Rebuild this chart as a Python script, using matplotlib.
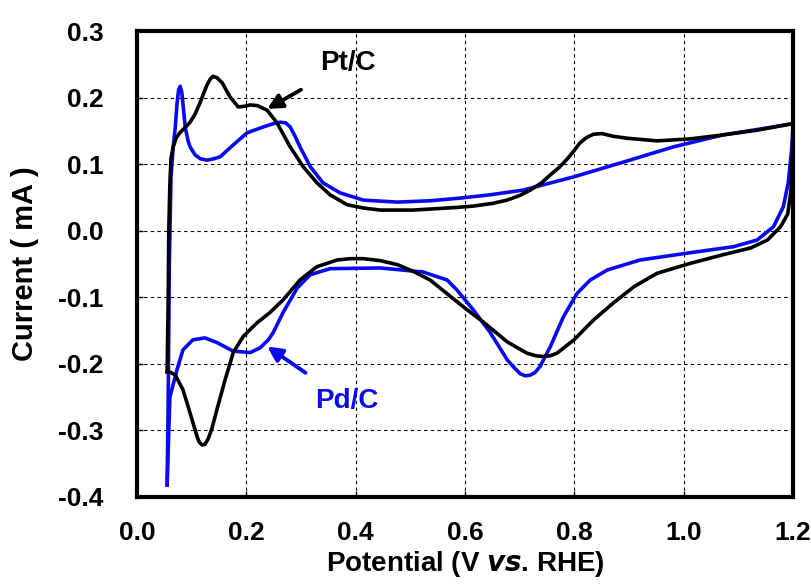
import matplotlib
matplotlib.use('Agg')
import matplotlib.pyplot as plt

plt.rcParams['font.family'] = ['Liberation Sans', 'DejaVu Sans']
plt.rcParams['font.weight'] = 'bold'
plt.rcParams['axes.unicode_minus'] = False

# Pt/C cyclic voltammogram (anodic and cathodic sweeps)
pt_up_x = [0.055, 0.057, 0.058, 0.060, 0.062, 0.066, 0.072, 0.079, 0.088, 0.097, 0.106, 0.115, 0.122,
           0.128, 0.134, 0.139, 0.146, 0.156, 0.170, 0.185, 0.197, 0.207, 0.220, 0.238, 0.256, 0.280,
           0.304, 0.329, 0.353, 0.384, 0.415, 0.445, 0.505, 0.585, 0.615, 0.650, 0.677, 0.700, 0.719,
           0.740, 0.756, 0.772, 0.787, 0.800, 0.810, 0.822, 0.835, 0.850, 0.870, 0.896, 0.951, 1.012,
           1.072, 1.134, 1.200]
pt_up_y = [-0.212, -0.100, 0.000, 0.070, 0.108, 0.126, 0.140, 0.148, 0.155, 0.163, 0.175, 0.192, 0.207,
           0.219, 0.228, 0.232, 0.230, 0.222, 0.201, 0.186, 0.187, 0.189, 0.188, 0.181, 0.162, 0.126,
           0.096, 0.072, 0.054, 0.039, 0.034, 0.031, 0.031, 0.035, 0.037, 0.041, 0.046, 0.053, 0.061,
           0.072, 0.084, 0.095, 0.108, 0.121, 0.132, 0.140, 0.145, 0.146, 0.142, 0.139, 0.135, 0.138,
           0.144, 0.151, 0.161]
pt_dn_x = [1.200, 1.199, 1.196, 1.190, 1.177, 1.153, 1.122, 1.072, 1.012, 0.951, 0.909, 0.872, 0.835,
           0.799, 0.768, 0.755, 0.743, 0.730, 0.713, 0.677, 0.633, 0.604, 0.575, 0.536, 0.505, 0.476,
           0.445, 0.414, 0.390, 0.366, 0.329, 0.298, 0.267, 0.243, 0.220, 0.194, 0.176, 0.161, 0.146,
           0.137, 0.130, 0.124, 0.119, 0.114, 0.110, 0.097, 0.084, 0.070, 0.062, 0.055]
pt_dn_y = [0.161, 0.120, 0.060, 0.025, 0.006, -0.014, -0.026, -0.036, -0.049, -0.064, -0.084, -0.108,
           -0.134, -0.164, -0.184, -0.188, -0.189, -0.188, -0.184, -0.167, -0.137, -0.119, -0.100,
           -0.074, -0.061, -0.051, -0.045, -0.042, -0.042, -0.044, -0.054, -0.074, -0.104, -0.123,
           -0.138, -0.159, -0.183, -0.224, -0.269, -0.297, -0.313, -0.321, -0.322, -0.318, -0.310,
           -0.274, -0.239, -0.217, -0.213, -0.212]

# Pd/C cyclic voltammogram
pd_up_x = [0.055, 0.057, 0.059, 0.062, 0.066, 0.070, 0.073, 0.076, 0.079, 0.082, 0.085, 0.088, 0.093,
           0.097, 0.106, 0.116, 0.128, 0.140, 0.152, 0.176, 0.201, 0.231, 0.250, 0.262, 0.272, 0.280,
           0.289, 0.298, 0.317, 0.340, 0.371, 0.414, 0.476, 0.536, 0.591, 0.646, 0.706, 0.799, 0.889,
           0.981, 1.072, 1.164, 1.200]
pd_up_y = [-0.382, -0.250, -0.050, 0.080, 0.125, 0.156, 0.190, 0.212, 0.217, 0.207, 0.182, 0.156, 0.136,
           0.126, 0.114, 0.108, 0.106, 0.108, 0.111, 0.129, 0.147, 0.156, 0.161, 0.163, 0.162, 0.156,
           0.142, 0.126, 0.096, 0.072, 0.057, 0.046, 0.043, 0.045, 0.049, 0.054, 0.061, 0.081, 0.103,
           0.126, 0.144, 0.156, 0.161]
pd_dn_x = [1.200, 1.197, 1.191, 1.182, 1.164, 1.134, 1.091, 1.012, 0.920, 0.860, 0.829, 0.805, 0.780,
           0.756, 0.737, 0.728, 0.719, 0.710, 0.701, 0.690, 0.677, 0.646, 0.615, 0.585, 0.567, 0.523,
           0.445, 0.353, 0.317, 0.293, 0.267, 0.249, 0.240, 0.225, 0.207, 0.176, 0.146, 0.124, 0.102,
           0.084, 0.073, 0.060, 0.055]
pd_dn_y = [0.161, 0.120, 0.072, 0.036, 0.006, -0.014, -0.024, -0.033, -0.044, -0.059, -0.074, -0.094,
           -0.129, -0.174, -0.204, -0.213, -0.217, -0.218, -0.215, -0.206, -0.194, -0.153, -0.119,
           -0.089, -0.074, -0.062, -0.056, -0.057, -0.066, -0.086, -0.123, -0.153, -0.164, -0.176,
           -0.183, -0.181, -0.168, -0.161, -0.164, -0.179, -0.209, -0.250, -0.382]

x_ticks = [0.0, 0.2, 0.4, 0.6, 0.8, 1.0, 1.2]
y_ticks = [-0.4, -0.3, -0.2, -0.1, 0.0, 0.1, 0.2, 0.3]

fig = plt.figure(figsize=(8.11, 5.86), dpi=100)
ax = fig.add_axes([0.169, 0.152, 0.809, 0.795])

blue = '#0a0af0'
lw = 2.6
ax.plot(pd_up_x, pd_up_y, color=blue, lw=lw, solid_joinstyle='round')
ax.plot(pd_dn_x, pd_dn_y, color=blue, lw=lw, solid_joinstyle='round')
ax.plot(pt_up_x, pt_up_y, color='black', lw=lw, solid_joinstyle='round')
ax.plot(pt_dn_x, pt_dn_y, color='black', lw=lw, solid_joinstyle='round')

ax.set_xlim(0.0, 1.2)
ax.set_ylim(-0.4, 0.3)
ax.set_xticks(x_ticks)
ax.set_yticks(y_ticks)
ax.set_xticklabels(['%.1f' % v for v in x_ticks])
ax.set_yticklabels(['%.1f' % v for v in y_ticks])
ax.tick_params(direction='in', length=4, width=1, labelsize=19)
ax.tick_params(axis='x', pad=17)
ax.tick_params(axis='y', pad=24)
for lab in ax.get_xticklabels() + ax.get_yticklabels():
    lab.set_fontweight('bold')

ax.grid(True, color='black', linestyle=(0, (3, 3)), linewidth=0.8)
ax.set_axisbelow(True)
for sp in ax.spines.values():
    sp.set_linewidth(3)

ax.set_xlabel('Potential (V $\\mathbf{\\it{vs}}$. RHE)', fontsize=20, fontweight='bold', labelpad=3)
ax.set_ylabel('Current ( mA )', fontsize=21, fontweight='bold', labelpad=14)

ax.annotate('Pt/C', xy=(0.238, 0.183), xytext=(0.386, 0.252), fontsize=20, fontweight='bold',
            ha='center', va='center',
            arrowprops=dict(arrowstyle='-|>', color='black', lw=2.8, shrinkA=16, shrinkB=0,
                            mutation_scale=22))
ax.annotate('Pd/C', xy=(0.238, -0.174), xytext=(0.384, -0.256), fontsize=20, fontweight='bold',
            color=blue, ha='center', va='center',
            arrowprops=dict(arrowstyle='-|>', color=blue, lw=2.8, shrinkA=16, shrinkB=0,
                            mutation_scale=22))

fig.savefig('out.png', dpi=100)
